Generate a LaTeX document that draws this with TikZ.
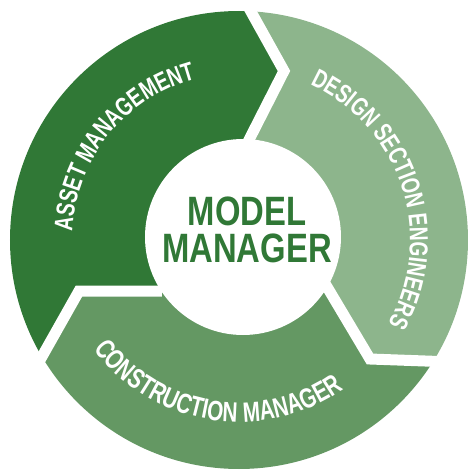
\documentclass[tikz,border=0pt]{standalone}
\usepackage{fontspec}
\usepackage{tikz}
\usetikzlibrary{decorations.text}
\newfontfamily\narrowfont[FakeStretch=0.8]{Liberation Sans}
\newfontfamily\ringfont[FakeStretch=0.74]{Liberation Sans}
\newfontfamily\wideringfont[FakeStretch=0.74, LetterSpace=3]{Liberation Sans}
\newcommand{\arcfont}{\ringfont\bfseries\fontsize{26}{30}\selectfont}
\newcommand{\wideArcfont}{\wideringfont\bfseries\fontsize{28}{30}\selectfont}
\definecolor{assetColor}{RGB}{48,120,54}
\definecolor{designColor}{RGB}{141,181,140}
\definecolor{constructionColor}{RGB}{100,152,99}

\begin{document}
\begin{tikzpicture}[
    x=1pt, y=1pt,
    gap/.style={draw=white, line width=11pt, line join=miter},
    hub/.style={font=\narrowfont\bfseries\fontsize{41}{37}\selectfont, text=assetColor, align=center},
    arclabel/.style={decorate, decoration={text along path, text align=center, text color=white}}
]
    \useasboundingbox (-239,-232) rectangle (231,240);

    % Chevron corners between the segments
    \coordinate (oa) at (1.2,247.7);
    \coordinate (ta) at (45,169);
    \coordinate (ia) at (6,92.3);
    \coordinate (ob) at (241,-123);
    \coordinate (tb) at (131,-119);
    \coordinate (ib) at (82.4,-37.4);
    \coordinate (oc) at (-204,-129);
    \coordinate (tc) at (-160,-51);
    \coordinate (ic) at (-77,-51);

    % Ring segments
    \begin{scope}
        \clip (0,0) circle (229pt);
        \fill[assetColor] (0,0) -- (ic) -- (tc) -- (oc) -- (215:400pt) -- (150:400pt) -- (95:400pt) -- (oa) -- (ta) -- (ia) -- cycle;
        \fill[designColor] (0,0) -- (ia) -- (ta) -- (oa) -- (85:400pt) -- (30:400pt) -- (-20:400pt) -- (ob) -- (tb) -- (ib) -- cycle;
        \fill[constructionColor] (0,0) -- (ib) -- (tb) -- (ob) -- (-35:400pt) -- (270:400pt) -- (220:400pt) -- (oc) -- (tc) -- (ic) -- cycle;
    \end{scope}

    % White gaps
    \draw[gap] (ia) -- (ta) -- (oa);
    \draw[gap] (ib) -- (tb) -- (ob);
    \draw[gap] (ic) -- (tc) -- (oc);

    % Hub
    \fill[white] (4,3) circle (98pt);
    \node[hub] (model) at (8,10) {MODEL\\MANAGER};

    % Labels along the ring
    \path[arclabel, decoration={text={|\arcfont|ASSET MANAGEMENT}}]
        (200:167pt) arc[start angle=200, end angle=82, radius=167pt];
    \path[arclabel, decoration={text={|\arcfont|DESIGN SECTION ENGINEERS}}]
        (78:171pt) arc[start angle=78, end angle=-42, radius=171pt];
    \path[arclabel, decoration={text={|\wideArcfont|CONSTRUCTION MANAGER}}]
        (200:182pt) arc[start angle=200, end angle=322, radius=182pt];
\end{tikzpicture}
\end{document}
